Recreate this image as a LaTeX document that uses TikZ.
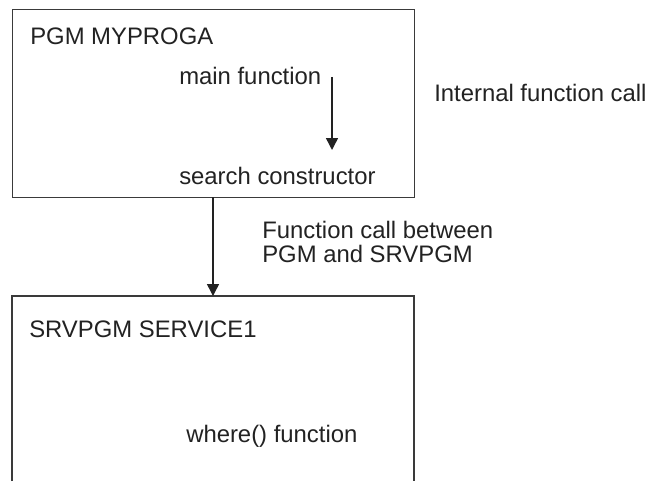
\documentclass[tikz,border=0pt]{standalone}
\usepackage{fontspec}
\setmainfont{Liberation Sans}
\usetikzlibrary{arrows.meta}
\definecolor{ink}{HTML}{222222}
\definecolor{edge}{HTML}{3A3A3A}
\begin{document}
\begin{tikzpicture}[x=0.75pt,y=-0.75pt,
  lbl/.style={anchor=base west,inner sep=0pt,text=ink,font=\fontsize{17.9pt}{18pt}\selectfont},
  boxline/.style={draw=edge,line width=1.1pt},
  callarrow/.style={draw=ink,line width=1.1pt,-{Triangle[width=9pt,length=9pt]}}]
\useasboundingbox (0,0) rectangle (648,481);
% top box
\node[boxline,rectangle,minimum width=402*0.75pt,minimum height=188*0.75pt,anchor=north west,inner sep=0pt] (pgm) at (12,9) {};
\node[lbl] (pgmname) at (30,45) {PGM MYPROGA};
\node[lbl] (mainf) at (179,85) {main function};
\node[lbl] (search) at (179,184) {search constructor};
\coordinate (a1s) at (332,77);
\coordinate (a1e) at (332,150);
\draw[callarrow] (a1s) -- (a1e);
\node[lbl] (internal) at (434,102) {Internal function call};
% bottom box (open at bottom)
\coordinate (bl) at (12,481);
\coordinate (br) at (414,481);
\coordinate (tl) at (12,296);
\coordinate (tr) at (414,296);
\draw[boxline] (bl) -- (tl) -- (tr) -- (br);
\node[lbl] (srv) at (29,337) {SRVPGM SERVICE1};
\node[lbl] (where) at (186,442) {where() function};
% call between
\coordinate (a2s) at (213,197);
\coordinate (a2e) at (213,296);
\draw[callarrow] (a2s) -- (a2e);
\node[lbl] (between1) at (262,238) {Function call between};
\node[lbl] (between2) at (262,262) {PGM and SRVPGM};
\end{tikzpicture}
\end{document}
